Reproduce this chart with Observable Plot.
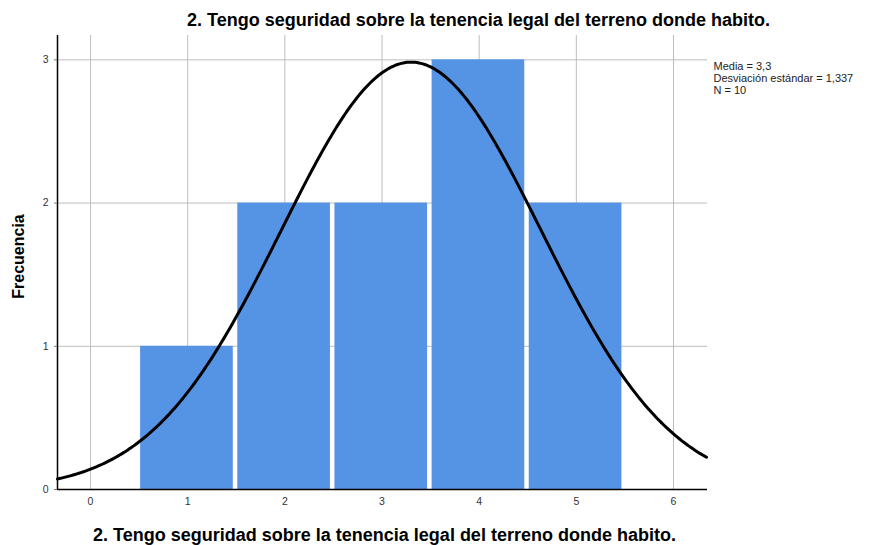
<!DOCTYPE html>
<html><head><meta charset="utf-8">
<script src="https://cdn.jsdelivr.net/npm/d3@7"></script>
<script src="https://cdn.jsdelivr.net/npm/@observablehq/plot@0.6"></script>
<style>body{margin:0;background:#fff;}</style>
</head><body><div id="chart"></div>
<script>
const categories = [1, 2, 3, 4, 5];
const frequencies = [1, 2, 2, 3, 2];
const xTicks = [0, 1, 2, 3, 4, 5, 6];
const yTicks = [0, 1, 2, 3];
const meanValue = 3.3;
const sdValue = 1.337;
const nValue = 10;
const statLabels = ["Media = 3,3", "Desviación estándar = 1,337", "N = 10"];
const titleText = "2. Tengo seguridad sobre la tenencia legal del terreno donde habito.";
const xLabelText = "2. Tengo seguridad sobre la tenencia legal del terreno donde habito.";
const yLabelText = "Frecuencia";

const xDomain = [-0.34, 6.35];
const bars = categories.map((c, i) => ({x1: c - 0.5, x2: c + 0.5, y: frequencies[i]}));
// normal curve from the stated mean / sd, scaled by N * bin width
const curve = d3.range(xDomain[0], xDomain[1] + 0.001, 0.02).map(x => ({
  x, y: nValue * 1 / (sdValue * Math.sqrt(2 * Math.PI)) * Math.exp(-0.5 * ((x - meanValue) / sdValue) ** 2)
}));

const font = "'Liberation Sans', Arial, sans-serif";
const chart = Plot.plot({
  width: 870, height: 545,
  marginLeft: 57, marginRight: 163, marginTop: 35, marginBottom: 56,
  style: {fontFamily: font, background: "#fff", overflow: "visible"},
  x: {domain: xDomain},
  y: {domain: [0, 3.17]},
  marks: [
    Plot.gridX(xTicks, {stroke: "#bdbdbd", strokeOpacity: 1, strokeWidth: 1}),
    Plot.gridY(yTicks, {stroke: "#bdbdbd", strokeOpacity: 1, strokeWidth: 1}),
    Plot.rectY(bars, {x1: "x1", x2: "x2", y: "y", fill: "#5594e4", insetLeft: 1.5, insetRight: 3}),
    Plot.line(curve, {x: "x", y: "y", stroke: "#000", strokeWidth: 3, curve: "linear"}),
    Plot.ruleX([xDomain[0]], {stroke: "#000", strokeWidth: 1.5}),
    Plot.ruleY([0], {stroke: "#000", strokeWidth: 1.5}),
    Plot.axisX(xTicks, {tickSize: 0, tickPadding: 8, fontSize: 10.5, fill: "#333", label: null, tickFormat: d => String(d)}),
    Plot.axisY(yTicks, {tickSize: 3, tickPadding: 6, fontSize: 10.5, fill: "#333", stroke: "#777", label: null, tickFormat: d => String(d)}),
    Plot.text([titleText], {frameAnchor: "top-left", dx: 421, dy: -15, textAnchor: "middle", fontSize: 18, fontWeight: "bold", fill: "#000", lineAnchor: "middle"}),
    Plot.text([xLabelText], {frameAnchor: "bottom", dx: 2, dy: 46, textAnchor: "middle", fontSize: 18, fontWeight: "bold", fill: "#000", lineAnchor: "middle"}),
    Plot.text([yLabelText], {frameAnchor: "left", dx: -39, dy: -6, rotate: -90, textAnchor: "middle", lineAnchor: "middle", fontSize: 16, fontWeight: "bold", fill: "#000"}),
    Plot.text([statLabels.join("\n")], {frameAnchor: "top-right", dx: 6, dy: 26, textAnchor: "start", lineAnchor: "top", fontSize: 11, lineHeight: 1.1, fill: "#222"})
  ]
});
document.getElementById("chart").appendChild(chart);
</script>
</body></html>
